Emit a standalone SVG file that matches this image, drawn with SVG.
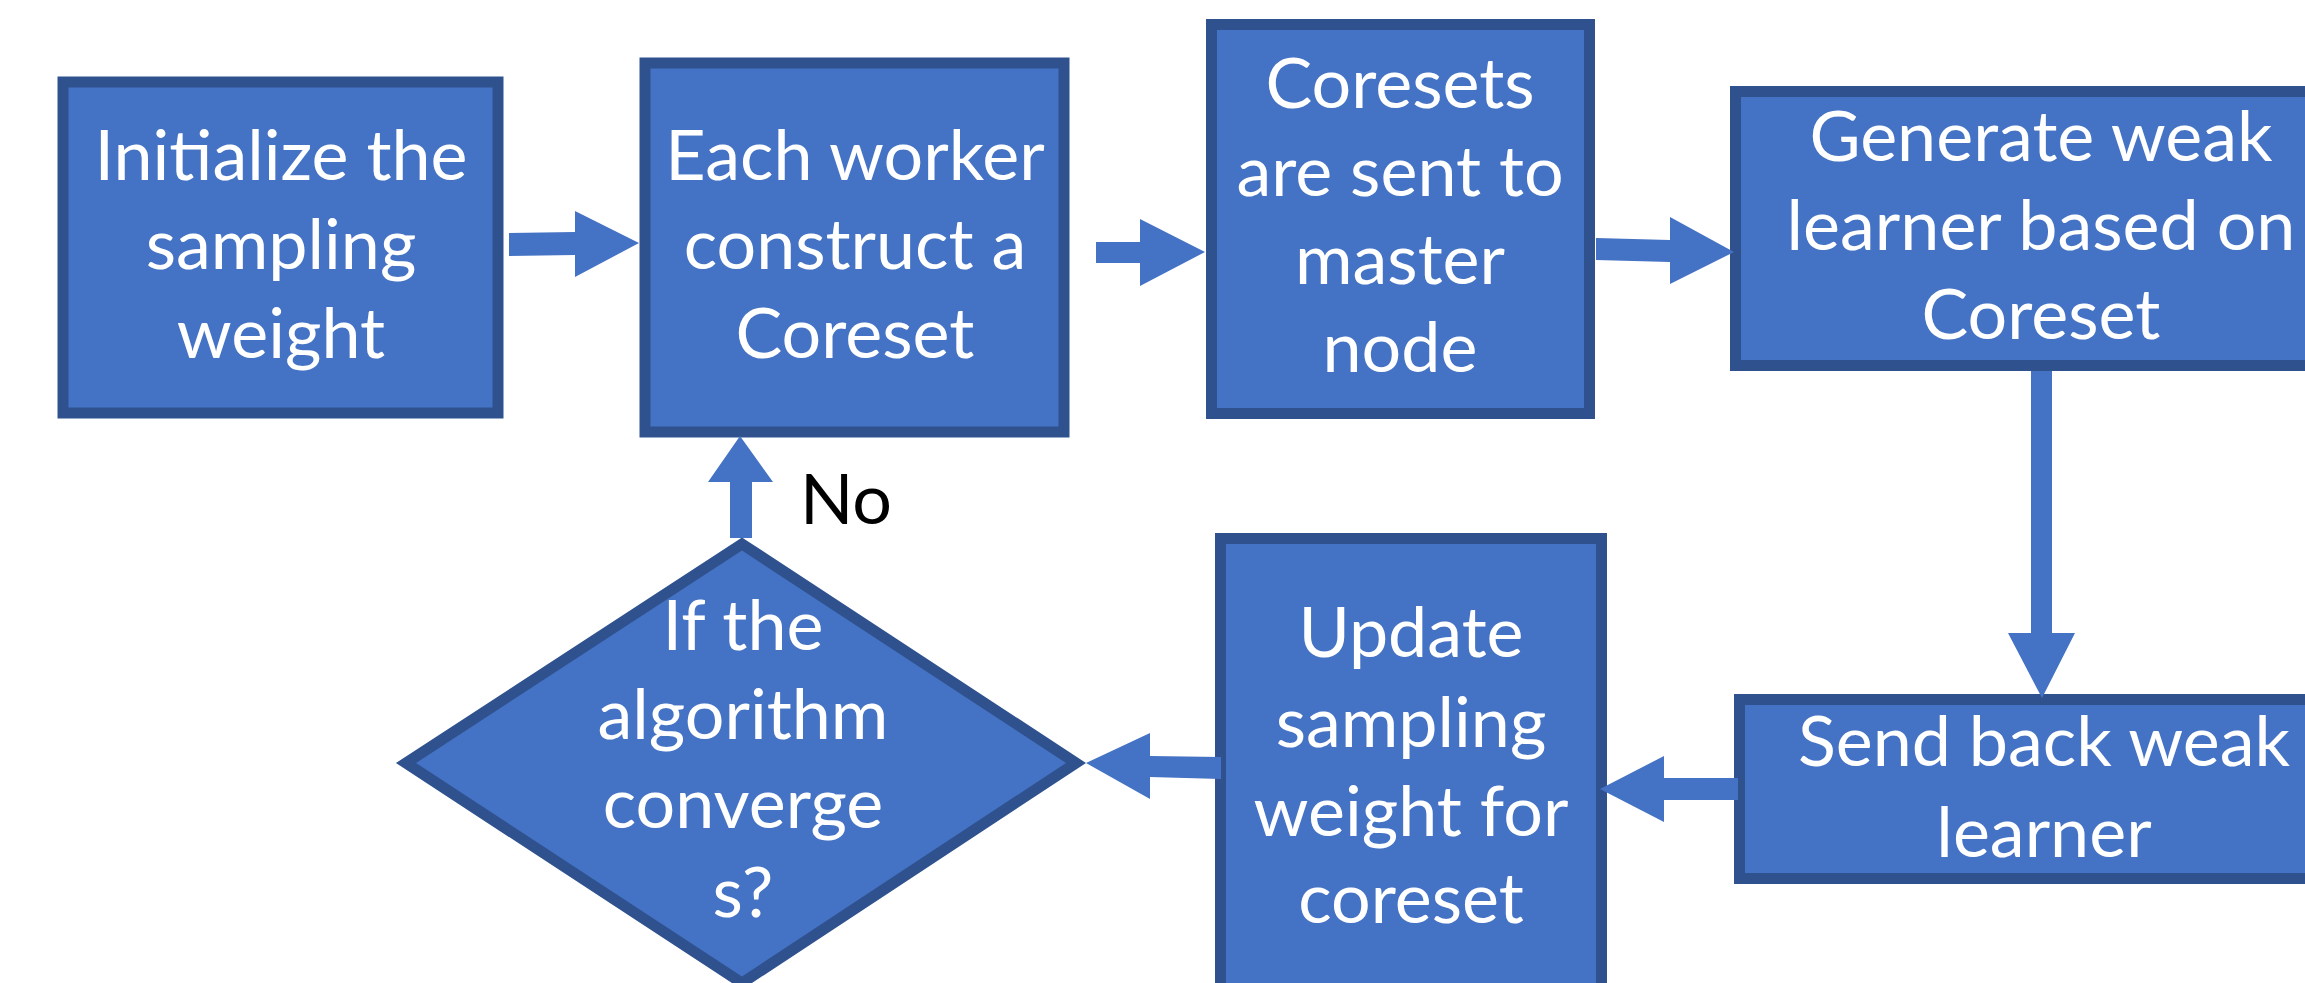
<svg xmlns="http://www.w3.org/2000/svg" width="2305" height="983" viewBox="0 0 2305 983">
<style>
.box{fill:#4472C4;stroke:#2F528F;stroke-width:11;stroke-miterlimit:10}
.t{font-family:Lato,"Open Sans",sans-serif;font-size:70px;fill:#FFFFFF;text-anchor:middle}
.lbl{font-family:Lato,"Open Sans",sans-serif;font-size:70px;fill:#000000}
.arr{fill:#4472C4;stroke:none}
</style>
<rect width="2305" height="983" fill="#FFFFFF"/>
<g id="n1">
<rect class="box" x="63" y="82" width="435" height="331"/>
<text class="t" x="281" y="180">Initialize the</text>
<text class="t" x="281" y="269">sampling</text>
<text class="t" x="281" y="358">weight</text>
</g>
<g id="n2">
<rect class="box" x="645" y="63" width="419" height="369"/>
<text class="t" x="855" y="180">Each worker</text>
<text class="t" x="855" y="269">construct a</text>
<text class="t" x="855" y="358">Coreset</text>
</g>
<g id="n3">
<rect class="box" x="1211.5" y="24.5" width="378" height="389"/>
<text class="t" x="1400" y="108">Coresets</text>
<text class="t" x="1400" y="196">are sent to</text>
<text class="t" x="1400" y="284">master</text>
<text class="t" x="1400" y="372">node</text>
</g>
<g id="n4">
<rect class="box" x="1735.5" y="91.5" width="610" height="274"/>
<text class="t" x="2041" y="161">Generate weak</text>
<text class="t" x="2041" y="250">learner based on</text>
<text class="t" x="2041" y="339">Coreset</text>
</g>
<g id="n5">
<rect class="box" x="1739.5" y="699.5" width="610" height="179"/>
<text class="t" x="2044" y="766">Send back weak</text>
<text class="t" x="2044" y="857">learner</text>
</g>
<g id="n6">
<rect class="box" x="1220.5" y="538.5" width="381" height="500"/>
<text class="t" x="1411" y="657">Update</text>
<text class="t" x="1411" y="747">sampling</text>
<text class="t" x="1411" y="836">weight for</text>
<text class="t" x="1411" y="923">coreset</text>
</g>
<g id="n7">
<polygon class="box" points="742,544 1076,763 742,983 406,763"/>
<text class="t" x="743" y="650">If the</text>
<text class="t" x="743" y="739">algorithm</text>
<text class="t" x="743" y="828">converge</text>
<text class="t" x="743" y="917">s?</text>
</g>
<g id="connectors">
<polygon class="arr" points="509,233 575,232 575,211 639,243 575,277 575,255 509,256"/>
<polygon class="arr" points="1096,242 1140,242 1140,219 1205,252 1140,286 1140,263 1096,263"/>
<polygon class="arr" points="1596,238 1670,240 1670,217 1734,252 1670,284 1670,262 1596,260"/>
<polygon class="arr" points="2031,371 2052,371 2052,633 2075,633 2042,698 2008,633 2031,633"/>
<polygon class="arr" points="1738,778 1738,800 1664,800 1664,822 1600,789 1664,756 1664,778"/>
<polygon class="arr" points="1221,757 1221,779 1150,777 1150,799 1086,763 1150,733 1150,756"/>
<polygon class="arr" points="730,538 730,482 708,482 740,436 773,482 752,482 752,538"/>
<text class="lbl" x="800" y="524">No</text>
</g>
</svg>
